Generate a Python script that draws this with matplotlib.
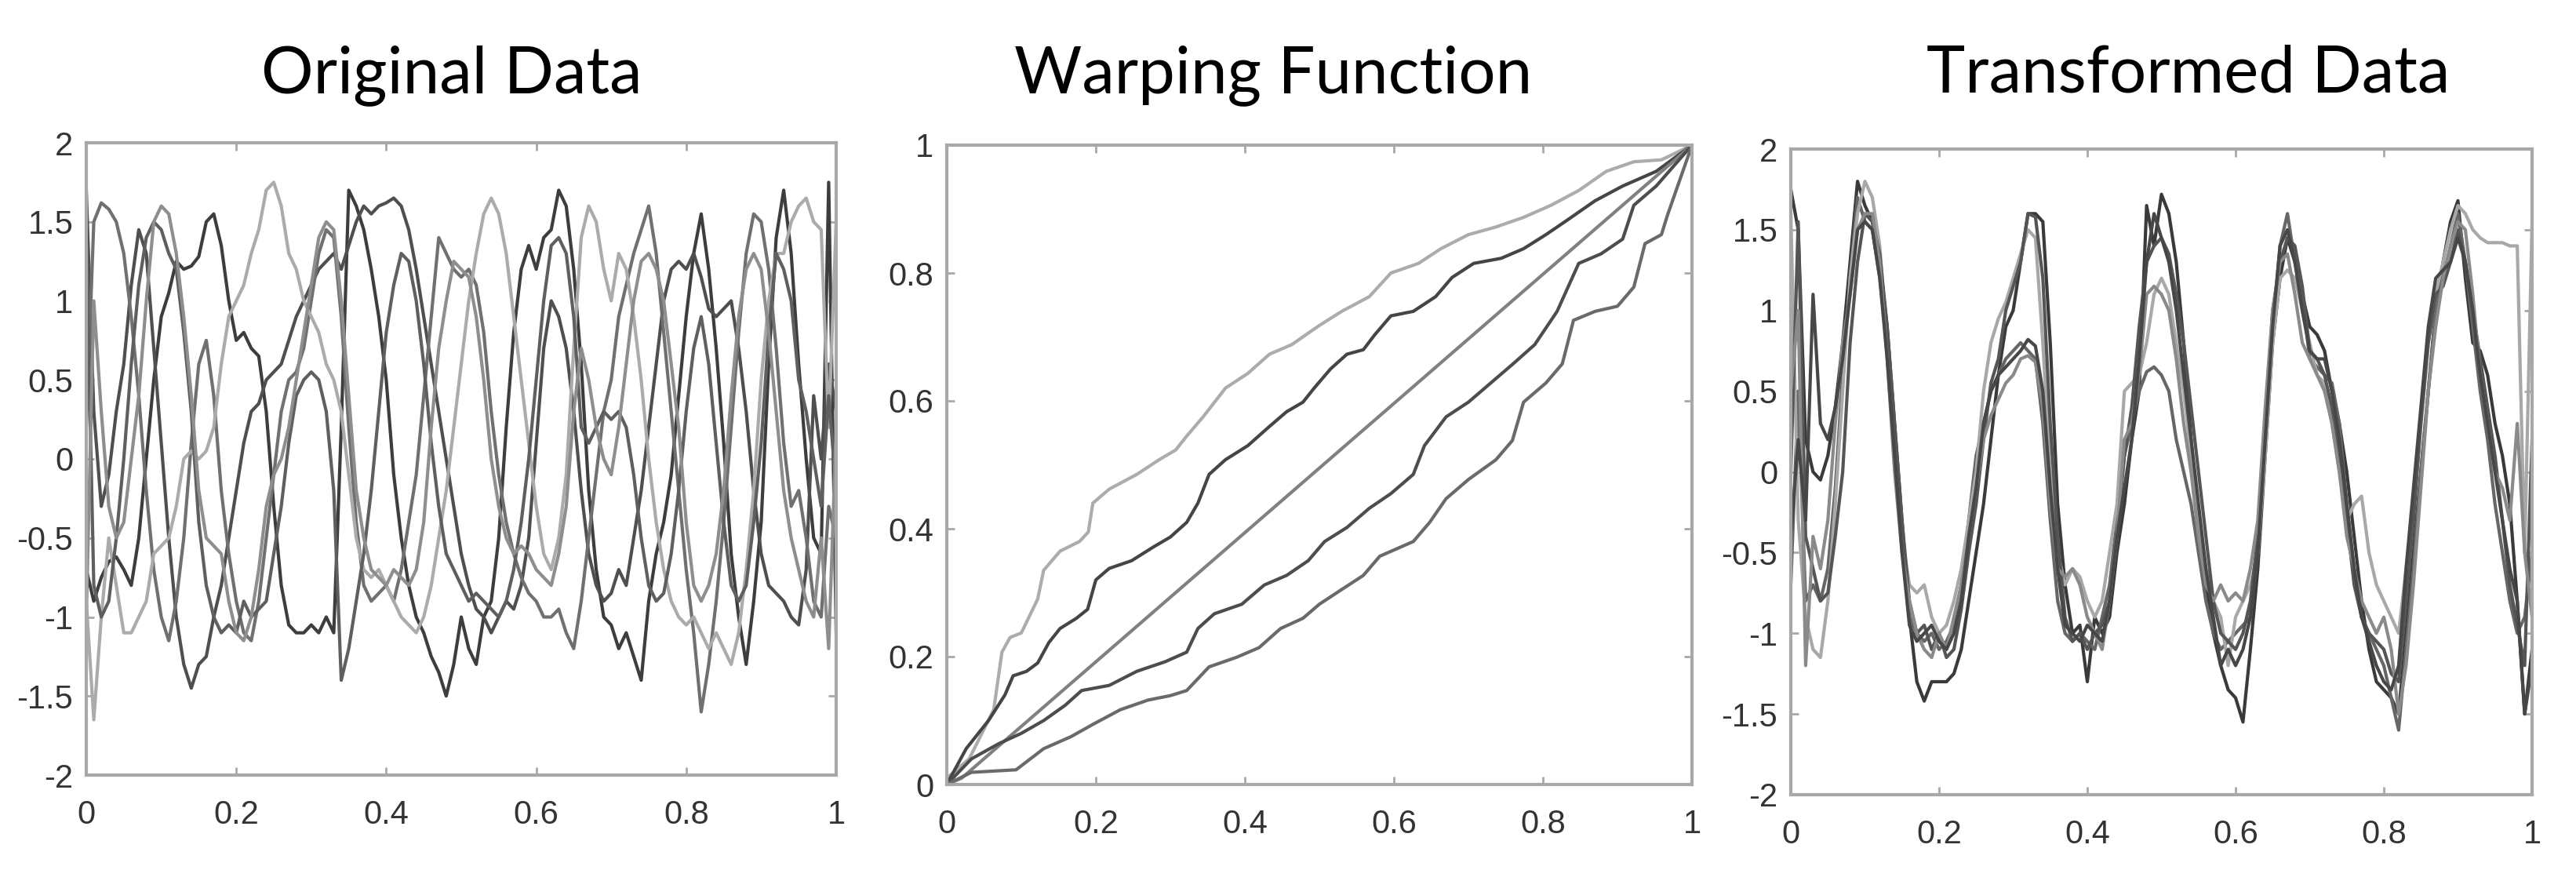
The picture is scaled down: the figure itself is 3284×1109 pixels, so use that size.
import numpy as np
import matplotlib.pyplot as plt

plt.rcParams['axes.unicode_minus'] = False

W, H = 3284, 1109

# sample grid shared by the data panels (step 0.01)
t = np.linspace(0, 1, 101)

# ---- Original Data (6 curves) ----
orig_a = [-0.7, -0.9, -0.75, -0.65, -0.62, -0.7, -0.8, -0.5, 0.0, 0.5,
          0.9, 1.05, 1.25, 1.2, 1.22, 1.28, 1.5, 1.55, 1.35, 1.0,
          0.75, 0.8, 0.7, 0.65, 0.3, -0.3, -0.8, -1.05, -1.1, -1.1,
          -1.05, -1.1, -1.0, -1.1, 0.2, 1.7, 1.6, 1.45, 1.2, 0.9,
          0.5, -0.1, -0.5, -0.8, -1.0, -1.1, -1.25, -1.35, -1.5, -1.3,
          -1.0, -1.2, -1.3, -1.0, -0.9, -0.5, 0.2, 0.8, 1.2, 1.35,
          1.2, 1.4, 1.45, 1.7, 1.6, 1.2, 0.6, -0.2, -0.7, -1.0,
          -1.05, -1.2, -1.1, -1.25, -1.4, -0.9, -0.6, -0.4, -0.1, 0.4,
          0.9, 1.3, 1.55, 1.2, 0.7, 0.1, -0.6, -1.0, -1.3, -0.9,
          -0.4, 0.6, 1.4, 1.7, 1.3, 0.6, 0.0, -0.5, -0.6, 1.75, -1.1]
orig_b = [1.7, 0.3, -0.3, -0.1, 0.3, 0.6, 1.1, 1.45, 1.3, 0.7,
          0.1, -0.5, -1.0, -1.3, -1.45, -1.3, -1.25, -1.0, -0.8, -0.5,
          -0.2, 0.1, 0.3, 0.35, 0.5, 0.55, 0.6, 0.75, 0.9, 1.0,
          1.1, 1.2, 1.25, 1.3, 1.2, 1.35, 1.5, 1.6, 1.55, 1.6,
          1.62, 1.65, 1.6, 1.45, 1.2, 0.9, 0.6, 0.3, 0.0, -0.3,
          -0.6, -0.8, -0.95, -1.0, -1.1, -1.0, -0.9, -0.95, -0.8, -0.5,
          0.1, 0.7, 1.0, 0.9, 0.7, 0.3, -0.2, -0.6, -0.8, -0.9,
          -0.85, -0.7, -0.8, -0.5, -0.2, 0.2, 0.6, 1.0, 1.2, 1.25,
          1.2, 1.3, 1.15, 0.95, 0.9, 0.95, 1.0, 0.7, 0.3, -0.2,
          -0.6, -0.8, -0.85, -0.9, -1.0, -1.05, -0.7, 0.4, 0.0, 0.6, 0.3]
orig_c = [0.2, 1.5, 1.62, 1.58, 1.5, 1.3, 0.9, 0.4, -0.2, -0.7,
          -1.0, -1.15, -0.9, -0.5, 0.1, 0.6, 0.75, 0.4, -0.2, -0.6,
          -0.9, -1.1, -1.15, -0.9, -0.5, -0.1, 0.3, 0.5, 0.55, 0.7,
          1.0, 1.3, 1.45, 1.4, 0.9, 0.2, -0.4, -0.8, -0.9, -0.85,
          -0.8, -0.9, -0.7, -0.4, -0.1, 0.4, 0.9, 1.4, 1.3, 1.2,
          1.15, 1.2, 1.1, 0.8, 0.3, -0.1, -0.4, -0.6, -0.75, -0.85,
          -0.9, -1.0, -1.0, -0.95, -1.1, -1.2, -0.9, -0.5, -0.1, 0.3,
          0.5, 0.9, 1.1, 1.3, 1.45, 1.6, 1.3, 0.8, 0.3, -0.2,
          -0.7, -1.1, -1.6, -1.3, -0.9, -0.4, 0.2, 0.8, 1.3, 1.55,
          1.5, 1.2, 0.7, 0.1, -0.3, -0.2, -0.5, -0.9, -1.0, -0.3, -0.5]
orig_d = [-0.9, -1.65, -1.0, -0.5, -0.8, -1.1, -1.1, -1.0, -0.9, -0.6,
          -0.55, -0.5, -0.3, 0.0, 0.05, 0.0, 0.05, 0.2, 0.6, 0.9,
          1.0, 1.1, 1.3, 1.45, 1.7, 1.75, 1.6, 1.3, 1.2, 1.0,
          0.9, 0.8, 0.6, 0.5, 0.3, -0.1, -0.5, -0.7, -0.75, -0.7,
          -0.8, -0.9, -1.0, -1.05, -1.1, -1.0, -0.8, -0.5, -0.2, 0.2,
          0.6, 1.0, 1.3, 1.55, 1.65, 1.55, 1.3, 0.9, 0.5, 0.1,
          -0.3, -0.6, -0.7, -0.5, -0.1, 0.7, 1.4, 1.6, 1.5, 1.2,
          1.0, 1.3, 1.2, 0.9, 0.5, 0.0, -0.4, -0.7, -0.9, -1.0,
          -1.05, -1.0, -1.1, -1.2, -1.1, -1.2, -1.3, -1.1, -0.7, -0.2,
          0.5, 1.0, 1.3, 1.3, 1.5, 1.6, 1.65, 1.5, 1.45, 0.2, 1.5]
orig_e = [1.4, -0.8, -1.0, -0.9, -0.5, 0.0, 0.6, 1.1, 1.4, 1.5,
          1.45, 1.3, 1.2, 0.8, 0.3, -0.4, -0.8, -1.0, -1.1, -1.05,
          -1.1, -0.9, -1.0, -0.95, -0.9, -0.6, -0.3, 0.1, 0.4, 0.5,
          0.55, 0.5, 0.3, -0.2, -1.4, -1.2, -0.9, -0.6, -0.2, 0.3,
          0.8, 1.1, 1.3, 1.25, 1.0, 0.6, 0.1, -0.3, -0.6, -0.7,
          -0.8, -0.9, -0.85, -0.9, -0.95, -1.0, -0.9, -0.7, -0.4, 0.0,
          0.5, 1.0, 1.35, 1.4, 1.3, 0.9, 0.2, 0.1, 0.2, 0.3,
          0.25, 0.3, 0.2, -0.1, -0.5, -0.8, -0.9, -0.85, -0.6, -0.2,
          0.3, 0.7, 0.9, 0.6, 0.1, -0.4, -0.8, -0.9, -0.8, -0.4,
          0.1, 0.8, 1.3, 1.2, 1.0, 0.5, 0.3, 0.0, -0.3, 0.4, -0.2]
orig_f = [-1.0, 1.0, 0.3, -0.3, -0.5, -0.4, 0.0, 0.4, 1.0, 1.5,
          1.6, 1.55, 1.3, 0.9, 0.4, -0.2, -0.5, -0.55, -0.6, -0.9,
          -1.1, -1.15, -1.0, -0.7, -0.3, -0.1, 0.0, 0.2, 0.5, 0.8,
          1.1, 1.4, 1.5, 1.45, 1.0, 0.4, -0.2, -0.5, -0.7, -0.75,
          -0.8, -0.7, -0.75, -0.8, -0.7, -0.4, 0.2, 0.7, 1.0, 1.25,
          1.2, 1.15, 0.9, 0.5, 0.0, -0.3, -0.5, -0.6, -0.55, -0.6,
          -0.7, -0.75, -0.8, -0.6, -0.3, 0.3, 0.7, 0.5, 0.2, 0.0,
          -0.1, 0.2, 0.6, 1.0, 1.25, 1.3, 1.2, 1.0, 0.6, 0.2,
          -0.4, -0.8, -0.9, -0.8, -0.6, -0.2, 0.4, 0.9, 1.2, 1.3,
          1.2, 0.8, 0.3, -0.2, -0.5, -0.7, -0.9, -1.0, -0.5, -1.2, 0.2]
orig_series = [orig_a, orig_b, orig_c, orig_d, orig_e, orig_f]
orig_colors = ['#3d3d3d', '#4f4f4f', '#707070', '#ababab', '#5f5f5f', '#8e8e8e']

# ---- Warping Function (5 curves) ----
warp_top_x = [0, 0.03, 0.063, 0.074, 0.085, 0.1, 0.122, 0.13, 0.152, 0.178,
              0.19, 0.196, 0.218, 0.255, 0.285, 0.307, 0.322, 0.344, 0.374, 0.404,
              0.433, 0.463, 0.5, 0.53, 0.567, 0.596, 0.633, 0.663, 0.7, 0.737,
              0.774, 0.811, 0.848, 0.885, 0.922, 0.959, 1.0]
warp_top_y = [0.01, 0.04, 0.117, 0.207, 0.23, 0.237, 0.29, 0.335, 0.365, 0.38,
              0.395, 0.44, 0.462, 0.485, 0.508, 0.523, 0.545, 0.575, 0.62, 0.643,
              0.673, 0.688, 0.718, 0.74, 0.763, 0.8, 0.815, 0.838, 0.86, 0.872,
              0.887, 0.906, 0.929, 0.959, 0.974, 0.977, 1.0]
warp_up_x = [0, 0.026, 0.056, 0.078, 0.089, 0.107, 0.122, 0.137, 0.152, 0.174,
             0.189, 0.2, 0.218, 0.248, 0.278, 0.3, 0.322, 0.337, 0.352, 0.374,
             0.404, 0.433, 0.456, 0.478, 0.493, 0.515, 0.537, 0.559, 0.574, 0.596,
             0.626, 0.656, 0.678, 0.707, 0.744, 0.774, 0.804, 0.833, 0.87, 0.907,
             0.952, 1.0]
warp_up_y = [0, 0.056, 0.1, 0.14, 0.17, 0.177, 0.19, 0.222, 0.244, 0.26,
             0.274, 0.32, 0.338, 0.35, 0.372, 0.387, 0.41, 0.44, 0.485, 0.508,
             0.53, 0.56, 0.583, 0.598, 0.62, 0.65, 0.673, 0.68, 0.703, 0.733,
             0.74, 0.763, 0.793, 0.815, 0.823, 0.838, 0.86, 0.883, 0.913, 0.936,
             0.959, 1.0]
warp_id_x = [0, 0.02, 1.0]
warp_id_y = [0, 0.01, 1.0]
warp_lo_x = [0, 0.033, 0.07, 0.1, 0.13, 0.159, 0.181, 0.218, 0.255, 0.293,
             0.322, 0.337, 0.359, 0.396, 0.426, 0.456, 0.485, 0.507, 0.537, 0.567,
             0.596, 0.626, 0.641, 0.67, 0.7, 0.73, 0.76, 0.789, 0.819, 0.848,
             0.878, 0.907, 0.922, 0.952, 1.0]
warp_lo_y = [0, 0.04, 0.064, 0.08, 0.1, 0.124, 0.147, 0.155, 0.177, 0.192,
             0.207, 0.244, 0.267, 0.282, 0.312, 0.327, 0.35, 0.38, 0.402, 0.432,
             0.455, 0.485, 0.53, 0.575, 0.598, 0.628, 0.658, 0.688, 0.74, 0.815,
             0.83, 0.853, 0.906, 0.936, 1.0]
warp_bot_x = [0, 0.033, 0.093, 0.13, 0.167, 0.196, 0.233, 0.27, 0.3, 0.322,
              0.352, 0.389, 0.419, 0.448, 0.478, 0.5, 0.53, 0.559, 0.581, 0.626,
              0.648, 0.67, 0.7, 0.737, 0.759, 0.774, 0.804, 0.826, 0.841, 0.87,
              0.9, 0.922, 0.937, 0.959, 0.967, 1.0]
warp_bot_y = [0, 0.019, 0.023, 0.056, 0.075, 0.094, 0.117, 0.132, 0.139, 0.147,
              0.184, 0.199, 0.214, 0.244, 0.26, 0.282, 0.305, 0.327, 0.357, 0.38,
              0.41, 0.447, 0.477, 0.508, 0.538, 0.598, 0.628, 0.658, 0.726, 0.74,
              0.748, 0.778, 0.846, 0.86, 0.89, 1.0]
warp_series = [(warp_top_x, warp_top_y, '#acacac'),
               (warp_up_x, warp_up_y, '#454545'),
               (warp_id_x, warp_id_y, '#808080'),
               (warp_lo_x, warp_lo_y, '#4d4d4d'),
               (warp_bot_x, warp_bot_y, '#6a6a6a')]

# ---- Transformed Data (6 curves) ----
tr_1 = [1.75, 1.5, 0.2, 0.0, -0.05, 0.1, 0.4, 0.8, 1.3, 1.8,
        1.65, 1.55, 1.3, 0.9, 0.3, -0.3, -0.9, -1.3, -1.42, -1.3,
        -1.3, -1.3, -1.25, -1.1, -0.8, -0.5, -0.2, 0.2, 0.6, 0.9,
        1.0, 1.3, 1.6, 1.6, 1.55, 0.8, -0.2, -0.7, -1.0, -0.95,
        -1.3, -0.9, -1.0, -0.9, -0.5, -0.2, 0.2, 0.5, 1.65, 1.4,
        1.72, 1.6, 1.3, 0.8, 0.2, -0.3, -0.7, -1.0, -1.2, -1.35,
        -1.4, -1.55, -1.1, -0.6, 0.1, 0.8, 1.2, 1.45, 1.3, 1.1,
        0.9, 0.85, 0.75, 0.5, 0.3, 0.0, -0.4, -0.8, -1.1, -1.3,
        -1.35, -1.4, -1.5, -1.0, -0.5, 0.0, 0.5, 1.0, 1.3, 1.55,
        1.68, 1.2, 0.8, 0.75, 0.6, 0.3, 0.1, -0.2, -0.8, -1.5, -1.1]
tr_2 = [-0.7, 0.5, -0.8, -0.7, -0.8, -0.6, -0.1, 0.6, 1.2, 1.7,
        1.55, 1.5, 1.2, 0.8, 0.2, -0.4, -0.9, -1.0, -1.05, -1.0,
        -1.1, -1.05, -0.95, -0.7, -0.3, 0.1, 0.3, 0.5, 0.6, 0.7,
        0.75, 0.8, 0.75, 0.7, 0.3, -0.3, -0.8, -1.0, -1.05, -1.0,
        -1.05, -1.1, -0.9, -0.7, -0.3, 0.1, 0.3, 0.5, 0.62, 0.65,
        0.6, 0.5, 0.2, 0.0, -0.2, -0.5, -0.8, -1.0, -1.1, -1.05,
        -1.0, -0.95, -0.9, -0.5, 0.2, 0.9, 1.4, 1.6, 1.3, 1.1,
        0.7, 0.65, 0.6, 0.55, 0.3, -0.2, -0.6, -0.9, -1.0, -1.1,
        -1.2, -1.4, -1.6, -1.1, -0.6, 0.0, 0.5, 1.0, 1.2, 1.4,
        1.6, 1.3, 0.9, 0.5, 0.2, -0.2, -0.5, -0.8, -1.0, -0.9, -0.5]
tr_3 = [1.6, -0.3, -0.9, -1.1, -1.15, -0.8, -0.2, 0.5, 1.2, 1.6,
        1.8, 1.7, 1.4, 0.8, 0.2, -0.4, -0.7, -0.75, -0.7, -0.9,
        -1.0, -0.95, -0.8, -0.6, -0.3, 0.0, 0.5, 0.8, 0.95, 1.05,
        1.2, 1.35, 1.5, 1.45, 0.8, 0.0, -0.5, -0.7, -0.6, -0.65,
        -0.8, -0.9, -0.8, -0.5, -0.2, 0.5, 0.55, 0.6, 0.8, 1.1,
        1.2, 1.1, 0.8, 0.5, 0.1, -0.3, -0.6, -0.8, -0.9, -1.2,
        -0.9, -0.8, -0.7, -0.5, 0.1, 0.8, 1.2, 1.25, 1.2, 1.0,
        0.8, 0.6, 0.55, 0.3, 0.0, -0.3, -0.2, -0.15, -0.5, -0.7,
        -0.8, -0.9, -1.0, -0.6, -0.2, 0.3, 0.8, 1.1, 1.3, 1.5,
        1.65, 1.6, 1.5, 1.45, 1.42, 1.42, 1.42, 1.4, 1.4, -0.5, 1.55]
tr_4 = [0.0, 1.55, -0.4, -0.6, -0.8, -0.75, -0.4, 0.0, 0.8, 1.3,
        1.6, 1.55, 1.35, 0.9, 0.3, -0.3, -0.8, -1.0, -0.95, -1.1,
        -1.0, -1.15, -1.1, -0.85, -0.5, -0.2, 0.2, 0.55, 0.7, 1.0,
        1.15, 1.3, 1.6, 1.58, 1.2, 0.3, -0.4, -0.9, -1.05, -1.0,
        -1.1, -1.0, -0.95, -0.8, -0.4, 0.1, 0.4, 0.9, 1.3, 1.4,
        1.45, 1.35, 1.1, 0.8, 0.4, 0.0, -0.4, -0.8, -1.0, -1.05,
        -1.1, -1.0, -0.8, -0.4, 0.3, 1.0, 1.3, 1.45, 1.4, 1.15,
        0.75, 0.7, 0.6, 0.4, 0.1, -0.3, -0.7, -0.9, -1.0, -1.05,
        -1.1, -1.25, -1.3, -0.8, -0.3, 0.3, 0.8, 1.1, 1.15, 1.3,
        1.5, 1.3, 1.0, 0.7, 0.4, 0.1, -0.3, -0.7, -0.95, -1.2, 0.2]
tr_5 = [0.5, 1.0, -1.2, -0.4, -0.6, -0.3, 0.3, 0.8, 1.1, 1.5,
        1.6, 1.6, 1.3, 0.7, 0.0, -0.5, -0.8, -1.0, -1.1, -1.15,
        -1.0, -1.1, -0.9, -0.7, -0.4, -0.1, 0.2, 0.35, 0.45, 0.55,
        0.6, 0.7, 0.72, 0.68, 0.4, -0.2, -0.6, -0.65, -0.6, -0.7,
        -0.9, -1.0, -1.1, -0.8, -0.4, 0.2, 0.3, 0.6, 1.1, 1.15,
        1.1, 1.0, 0.7, 0.3, 0.0, -0.4, -0.7, -0.8, -0.7, -0.8,
        -0.75, -0.8, -0.6, -0.3, 0.4, 1.0, 1.3, 1.35, 1.1, 0.8,
        0.7, 0.6, 0.5, 0.3, 0.0, -0.4, -0.6, -0.8, -0.9, -1.0,
        -0.9, -1.1, -1.5, -1.2, -0.7, -0.1, 0.5, 0.9, 1.2, 1.4,
        1.55, 1.5, 1.1, 0.6, 0.3, 0.0, -0.1, -0.3, 0.3, -0.5, -0.9]
tr_6 = [-0.4, 0.2, -0.3, 1.1, 0.3, 0.2, 0.4, 0.7, 1.1, 1.5,
        1.55, 1.5, 1.2, 0.7, 0.1, -0.5, -0.95, -1.05, -1.0, -0.95,
        -1.05, -1.1, -1.0, -0.8, -0.4, -0.1, 0.3, 0.5, 0.6, 0.65,
        0.7, 0.75, 0.82, 0.78, 0.5, -0.1, -0.6, -0.95, -1.0, -1.05,
        -0.95, -1.0, -1.05, -0.8, -0.4, -0.1, 0.2, 0.7, 1.3, 1.6,
        1.45, 1.3, 1.0, 0.6, 0.2, -0.2, -0.6, -0.9, -1.2, -1.1,
        -1.2, -1.1, -0.9, -0.5, 0.2, 0.9, 1.4, 1.5, 1.3, 1.0,
        0.75, 0.7, 0.7, 0.5, 0.2, -0.2, -0.6, -0.9, -1.05, -1.2,
        -1.3, -1.35, -1.2, -0.6, -0.1, 0.4, 0.9, 1.2, 1.25, 1.3,
        1.45, 1.3, 1.0, 0.6, 0.3, 0.0, -0.3, -0.6, -0.8, -1.5, -1.2]
tr_series = [tr_1, tr_2, tr_3, tr_4, tr_5, tr_6]
tr_colors = ['#3a3a3a', '#666666', '#a8a8a8', '#555555', '#8a8a8a', '#474747']

titles = ['Original Data', 'Warping Function', 'Transformed Data']
title_x = [576, 1623, 2790]

ticks_data = [-2, -1.5, -1, -0.5, 0, 0.5, 1, 1.5, 2]
ticks_warp = [0, 0.2, 0.4, 0.6, 0.8, 1]
ticks_x = [0, 0.2, 0.4, 0.6, 0.8, 1]


def fmt(v):
    s = f'{v:g}'
    return s


fig = plt.figure(figsize=(W / 100, H / 100), dpi=100)

# axes boxes in pixels: left, top, right, bottom
boxes = [(110, 182, 1066, 988), (1207, 185, 2157, 1000), (2283, 190, 3228, 1013)]
axes = []
for (l, tp, r, b) in boxes:
    ax = fig.add_axes([l / W, 1 - b / H, (r - l) / W, (b - tp) / H])
    axes.append(ax)

lw = 3.0
for y, c in zip(orig_series, orig_colors):
    axes[0].plot(t, y, color=c, lw=lw)
for x, y, c in warp_series:
    axes[1].plot(x, y, color=c, lw=lw)
for y, c in zip(tr_series, tr_colors):
    axes[2].plot(t, y, color=c, lw=lw)

for i, ax in enumerate(axes):
    ax.set_xlim(0, 1)
    ax.set_xticks(ticks_x)
    ax.set_xticklabels([fmt(v) for v in ticks_x])
    yt = ticks_warp if i == 1 else ticks_data
    ax.set_ylim(yt[0], yt[-1])
    ax.set_yticks(yt)
    ax.set_yticklabels([fmt(v) for v in yt])
    for sp in ax.spines.values():
        sp.set_color('#a8a8a8')
        sp.set_linewidth(3)
    ax.tick_params(direction='in', length=7, width=2, color='#a8a8a8',
                   top=True, right=True, labelsize=30, labelcolor='#333333')
    ax.tick_params(axis='x', pad=22)
    ax.tick_params(axis='y', pad=12)
    for lab in ax.get_xticklabels() + ax.get_yticklabels():
        lab.set_family('Liberation Sans')

for s, x in zip(titles, title_x):
    fig.text(x / W, 1 - 118 / H, s, ha='center', va='baseline',
             fontsize=60, family='Lato', color='black')

fig.savefig('out.png', dpi=100)
